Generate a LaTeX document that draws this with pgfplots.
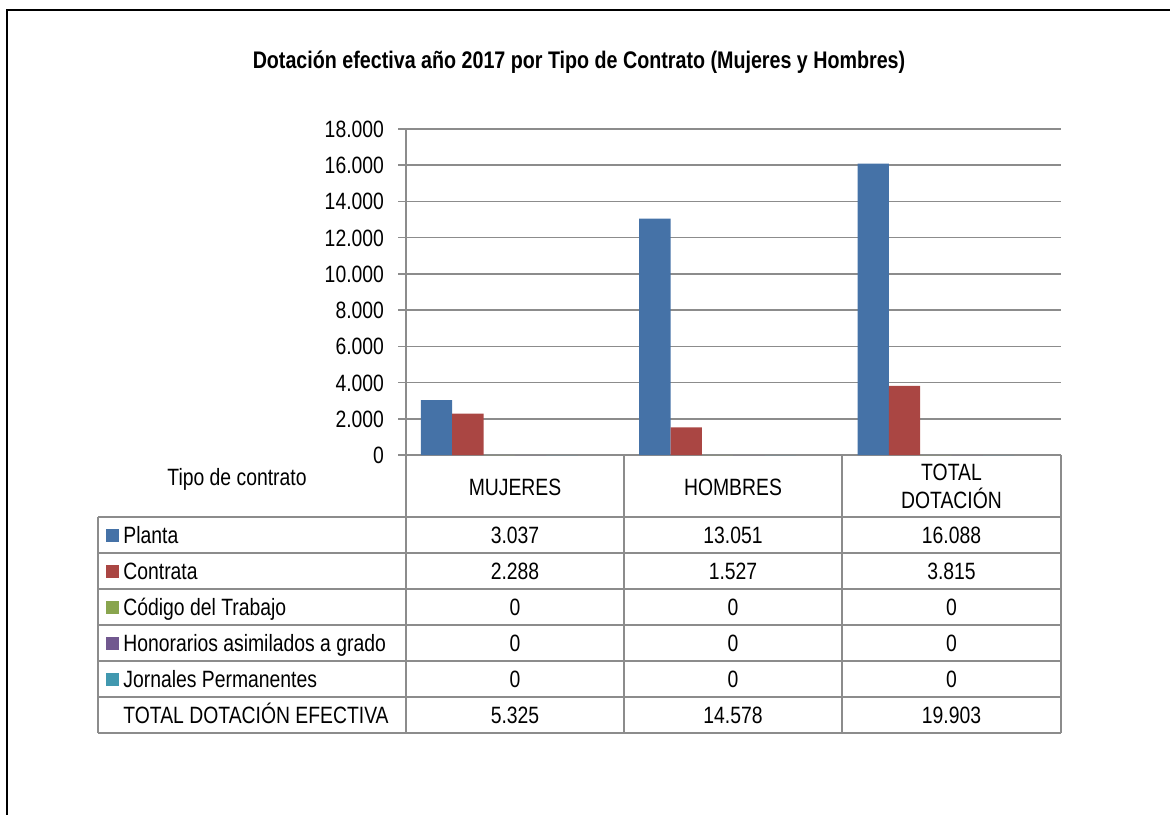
\documentclass[border=0pt]{standalone}
\usepackage{fontspec}
\setmainfont{Liberation Sans}[FakeStretch=0.82]
\usepackage{pgfplots}
\pgfplotsset{compat=1.18}

\definecolor{cPlanta}{HTML}{4572A7}
\definecolor{cContrata}{HTML}{AA4643}
\definecolor{cCodigo}{HTML}{89A54E}
\definecolor{cHonor}{HTML}{71588F}
\definecolor{cJornal}{HTML}{4198AF}
\definecolor{lineg}{HTML}{8C8C8C}

\newcommand\fs{\fontsize{11.8}{14}\selectfont}

\begin{document}
\begin{tikzpicture}
\useasboundingbox (0,0) rectangle (585pt,-407pt);

\begin{axis}[
  at={(203pt,-227.5pt)}, anchor=south west,
  scale only axis, width=327.5pt, height=163pt,
  xmin=0, xmax=3, ymin=0, ymax=18000,
  axis x line=none, axis y line*=left,
  y axis line style={lineg, line width=0.8pt, -},
  ymajorgrids, grid style={lineg, line width=0.8pt},
  ytick={0,2000,4000,6000,8000,10000,12000,14000,16000,18000},
  yticklabels={0,2.000,4.000,6.000,8.000,10.000,12.000,14.000,16.000,18.000},
  scaled y ticks=false,
  tick align=outside, major tick length=4pt,
  y tick style={lineg, line width=0.8pt},
  yticklabel style={font=\fs, text height=8.5pt, text depth=0pt, xshift=-3.5pt},
  ybar, bar width=0.1435,
]
% Planta
\addplot[fill=cPlanta, draw=none, bar shift=-0.360] coordinates {(0.5,3037) (1.5,13051) (2.5,16088)};
% Contrata
\addplot[fill=cContrata, draw=none, bar shift=-0.2165] coordinates {(0.5,2288) (1.5,1527) (2.5,3815)};
% Codigo del Trabajo
\addplot[fill=cCodigo, draw=none, bar shift=-0.073] coordinates {(0.5,0) (1.5,0) (2.5,0)};
% Honorarios
\addplot[fill=cHonor, draw=none, bar shift=0.0705] coordinates {(0.5,0) (1.5,0) (2.5,0)};
% Jornales
\addplot[fill=cJornal, draw=none, bar shift=0.214] coordinates {(0.5,0) (1.5,0) (2.5,0)};
\end{axis}

\begin{scope}[x=0.5pt, y=-0.5pt]
  % outer frame
  \draw[black, line width=1pt] (7,816) -- (7,10) -- (1172,10);
  % title
  \node[font=\bfseries\fontsize{12}{14}\selectfont, inner sep=0, text height=8.6pt, text depth=0pt] at (579,60)
    {Dotación efectiva año 2017 por Tipo de Contrato (Mujeres y Hombres)};

  % data table
  \begin{scope}[lineg, line width=0.8pt]
    \foreach \yy in {517,553,589,625,661,697,733} \draw (98,\yy) -- (1061,\yy);
    \draw (98,517) -- (98,733);
    \foreach \xx in {406,624,842,1061} \draw (\xx,455) -- (\xx,733);
  \end{scope}

  \tikzset{t/.style={font=\fs, inner sep=0, text height=8.5pt, text depth=0pt}}
  \node[t] at (237,477) {Tipo de contrato};
  \node[t] at (515,487) {MUJERES};
  \node[t] at (733,487) {HOMBRES};
  \node[t] at (951.5,472) {TOTAL};
  \node[t] at (951.5,500) {DOTACIÓN};

  \fill[cPlanta]   (106,529) rectangle (118.5,541.5);
  \fill[cContrata] (106,565) rectangle (118.5,577.5);
  \fill[cCodigo]   (106,601) rectangle (118.5,613.5);
  \fill[cHonor]    (106,637) rectangle (118.5,649.5);
  \fill[cJornal]   (106,673) rectangle (118.5,685.5);

  \node[t, anchor=west] at (123,535) {Planta};
  \node[t, anchor=west] at (123,571) {Contrata};
  \node[t, anchor=west] at (123,607) {Código del Trabajo};
  \node[t, anchor=west] at (123,643) {Honorarios asimilados a grado};
  \node[t, anchor=west] at (123,679) {Jornales Permanentes};
  \node[t, anchor=west] at (123,715) {TOTAL DOTACIÓN EFECTIVA};

  \node[t] at (515,535) {3.037};   \node[t] at (733,535) {13.051}; \node[t] at (951.5,535) {16.088};
  \node[t] at (515,571) {2.288};   \node[t] at (733,571) {1.527};  \node[t] at (951.5,571) {3.815};
  \node[t] at (515,607) {0};       \node[t] at (733,607) {0};      \node[t] at (951.5,607) {0};
  \node[t] at (515,643) {0};       \node[t] at (733,643) {0};      \node[t] at (951.5,643) {0};
  \node[t] at (515,679) {0};       \node[t] at (733,679) {0};      \node[t] at (951.5,679) {0};
  \node[t] at (515,715) {5.325};   \node[t] at (733,715) {14.578}; \node[t] at (951.5,715) {19.903};
\end{scope}
\end{tikzpicture}
\end{document}
